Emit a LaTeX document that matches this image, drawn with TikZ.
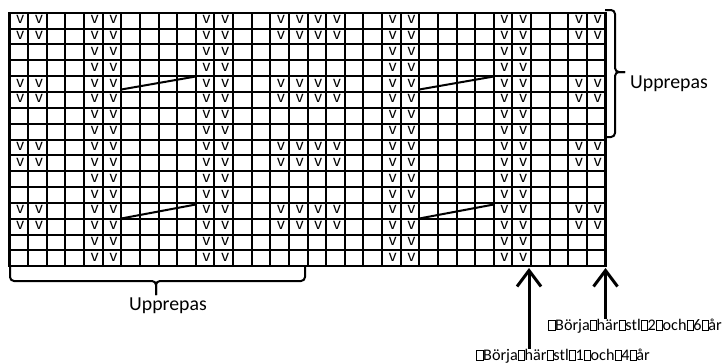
\documentclass[tikz,border=0pt]{standalone}
\usepackage{fontspec}
\setmainfont{Carlito}
\newfontfamily\vfont{Liberation Sans}
\usetikzlibrary{arrows.meta}
\newcommand\tofu{{\fboxsep=0pt\fboxrule=0.5pt\fbox{\rule{0pt}{0.62em}\hspace{0.36em}}}}
\begin{document}
\begin{tikzpicture}[x=1pt,y=-1pt,
  gridline/.style={line width=2pt},
  vmark/.style={font=\vfont\fontsize{15.5}{15.5}\selectfont, inner sep=0pt, anchor=center},
  slant/.style={line width=2pt},
  brace/.style={line width=2pt, rounded corners=4pt},
  lbl/.style={font=\fontsize{19.8}{20}\selectfont, inner sep=0pt},
  startlbl/.style={font=\fontsize{16.2}{16.2}\selectfont, inner sep=0pt, anchor=east},
  uparrow/.style={line width=3pt, -{Straight Barb[length=16pt,width=24pt]}}]
\useasboundingbox (0,0) rectangle (726,364);
\def\gx{9.5}\def\gy{12.7}\def\cw{18.625}\def\rh{15.85}
% grid
\foreach \i in {0,...,32} \draw[gridline] ({\gx+\i*\cw},\gy) -- ({\gx+\i*\cw},{\gy+16*\rh});
\foreach \j in {0,...,16} \draw[gridline] (\gx,{\gy+\j*\rh}) -- ({\gx+32*\cw},{\gy+\j*\rh});
\draw[gridline, line width=2.2pt] (\gx,\gy) rectangle ({\gx+32*\cw},{\gy+16*\rh});
% v marks: full columns
\foreach \c in {5,6,11,12,21,22,27,28}
  \foreach \r in {1,...,16}
    \node[vmark] (v-\r-\c) at ({\gx+(\c-0.5)*\cw+1.5},{\gy+(\r-0.5)*\rh-1}) {v};
% v marks: alternating pairs of rows
\foreach \c in {1,2,15,16,17,18,31,32}
  \foreach \r in {1,2,5,6,9,10,13,14}
    \node[vmark] (v-\r-\c) at ({\gx+(\c-0.5)*\cw+1.5},{\gy+(\r-0.5)*\rh-1}) {v};
% slanted lines
\foreach \s in {0,298}{
  \draw[slant] ({121.25+\s},89.5) -- ({195.75+\s},76.5);
  \draw[slant] ({121.25+\s},218.5) -- ({195.75+\s},204.5);
}
% braces
\draw[brace] (10,267) -- (10,281) -- (156,281) -- (156,295);
\draw[brace] (305,267) -- (305,281) -- (156,281) -- (156,295);
\draw[brace] (605,10) -- (615,10) -- (615,72) -- (625,72);
\draw[brace] (605,137) -- (615,137) -- (615,72) -- (625,72);
% labels
\node[lbl, anchor=west] (rep1) at (630,84) {Upprepas};
\node[lbl] (rep2) at (168,306) {Upprepas};
\node[startlbl] (start2) at (722,326) {\tofu Börja\tofu här\tofu stl\tofu 2\tofu och\tofu 6\tofu år};
\node[startlbl] (start1) at (650,356) {\tofu Börja\tofu här\tofu stl\tofu 1\tofu och\tofu 4\tofu år};
% arrows
\coordinate (tip1) at (529,268);
\coordinate (tip2) at (605.5,268);
\draw[uparrow] (tip1 |- start1.north) -- (tip1);
\draw[uparrow] (tip2 |- start2.north) -- (tip2);
\end{tikzpicture}
\end{document}
